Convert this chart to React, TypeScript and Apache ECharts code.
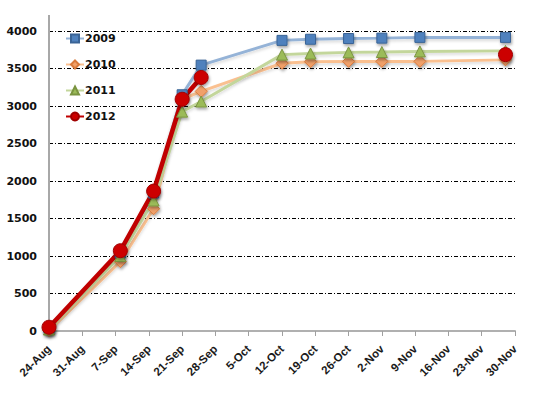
import React, { useEffect, useRef } from "react";
import * as echarts from "echarts";

const xTickLabels = ["24-Aug","31-Aug","7-Sep","14-Sep","21-Sep","28-Sep","5-Oct","12-Oct","19-Oct","26-Oct","2-Nov","9-Nov","16-Nov","23-Nov","30-Nov"];
const pointDates = ["2012-08-24","2012-09-08","2012-09-15","2012-09-21","2012-09-25","2012-10-12","2012-10-18","2012-10-26","2012-11-02","2012-11-10","2012-11-28"];
const v2009 = [40, 1040, 1840, 3150, 3545, 3875, 3890, 3900, 3905, 3915, 3915];
const v2010 = [5, 925, 1630, 3090, 3195, 3570, 3590, 3595, 3595, 3595, 3615];
const v2011 = [20, 1000, 1740, 2925, 3060, 3685, 3700, 3715, 3720, 3728, 3735];
const v2012 = [50, 1070, 1865, 3090, 3380, null, null, null, null, null, 3685];
const yTicks = { min: 0, max: 4000, step: 500 };

const startUTC = Date.UTC(2012, 7, 24);
const dayOffset = (s: string) => {
  const [y, m, d] = s.split("-").map(Number);
  return (Date.UTC(y, m - 1, d) - startUTC) / 86400000;
};
const toPairs = (vals: (number | null)[]) =>
  pointDates.map((d, i) => [dayOffset(d), vals[i] === null ? "-" : vals[i]]);

export default function App() {
  const ref = useRef<HTMLDivElement>(null);
  useEffect(() => {
    document.body.style.margin = "0";
    if (!ref.current) return;
    const chart = echarts.init(ref.current, undefined, { renderer: "svg" });
    const shadow = {
      shadowColor: "rgba(0,0,0,0.35)",
      shadowBlur: 3,
      shadowOffsetX: 1,
      shadowOffsetY: 2,
    };
    const mk = (name: string, vals: (number | null)[], line: string, marker: string, border: string, symbol: string, size: number, width: number) => ({
      name,
      type: "line",
      data: toPairs(vals),
      symbol,
      symbolSize: size,
      showAllSymbol: true,
      connectNulls: false,
      lineStyle: { color: line, width, shadowColor: "rgba(0,0,0,0.15)", shadowBlur: 3, shadowOffsetY: 2 },
      itemStyle: { color: marker, borderColor: border, borderWidth: 1, ...shadow },
      emphasis: { disabled: true },
    });
    chart.setOption({
      animation: false,
      grid: { left: 49, right: 35, top: 31, bottom: 67 },
      legend: {
        orient: "vertical",
        left: 65,
        top: 33,
        padding: 0,
        itemGap: 15,
        itemWidth: 18,
        itemHeight: 10,
        textStyle: { fontFamily: "DejaVu Sans", fontWeight: "bold", fontSize: 11, color: "#111", padding: [0, 0, 0, -4] },
        data: ["2009", "2010", "2011", "2012"],
      },
      xAxis: {
        type: "value",
        min: 0,
        max: (xTickLabels.length - 1) * 7,
        interval: 7,
        axisLine: { show: true, lineStyle: { color: "#b0b0b0", width: 2 } },
        axisTick: { show: true, length: 5, lineStyle: { color: "#a0a0a0" } },
        splitLine: { show: false },
        axisLabel: {
          rotate: 45,
          fontFamily: "Liberation Sans",
          fontWeight: "bold",
          fontSize: 11.5,
          color: "#1a1a1a",
          margin: 16,
          formatter: (v: number) => xTickLabels[Math.round(v / 7)] ?? "",
        },
      },
      yAxis: {
        type: "value",
        min: yTicks.min,
        max: yTicks.max,
        interval: yTicks.step,
        axisLine: { show: true, lineStyle: { color: "#a8a8a8", width: 2 } },
        axisTick: { show: false },
        splitLine: { show: true, lineStyle: { color: "#000", width: 1, type: [4, 2, 1, 2] } },
        axisLabel: {
          fontFamily: "DejaVu Sans",
          fontWeight: "bold",
          fontSize: 11,
          color: "#111",
          margin: 12,
          formatter: (v: number) => String(v),
        },
      },
      graphic: [
        { type: "line", shape: { x1: 49, y1: 15, x2: 49, y2: 31 }, style: { stroke: "#a8a8a8", lineWidth: 2 } },
      ],
      series: [
        mk("2009", v2009, "#95b3d7", "#4f81bd", "#3a6496", "rect", 10, 3),
        mk("2010", v2010, "#fac090", "#f0a069", "#d97a3c", "diamond", 12, 3),
        mk("2011", v2011, "#c3d69b", "#9bbb59", "#7a9440", "triangle", 11, 3),
        mk("2012", v2012, "#c00000", "#cc0000", "#a00000", "circle", 14, 4.5),
      ],
    });
    return () => chart.dispose();
  }, []);
  return <div ref={ref} style={{ width: 550, height: 398 }} />;
}
